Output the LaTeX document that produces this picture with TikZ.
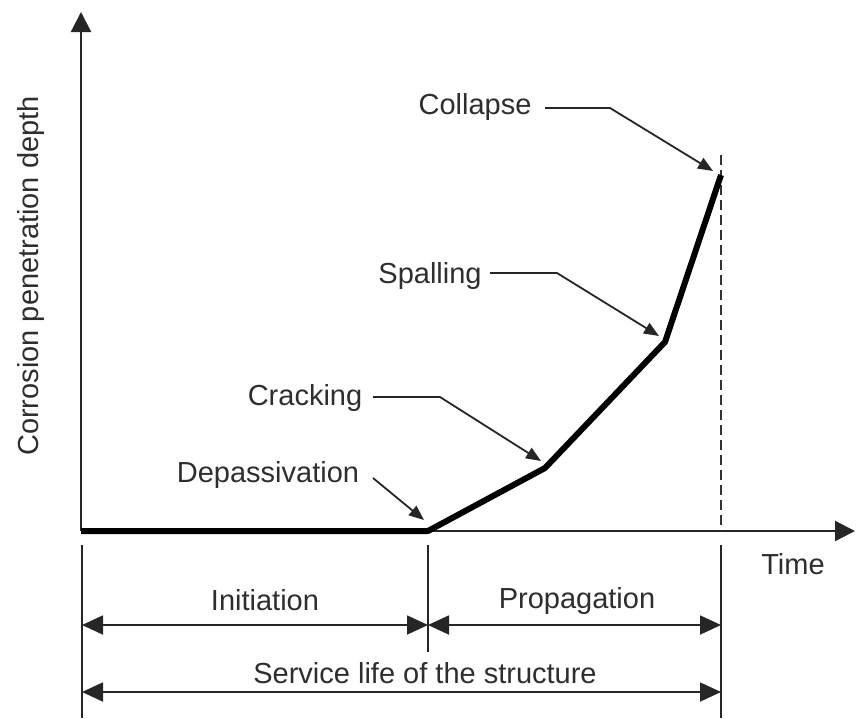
\documentclass[tikz,border=0pt]{standalone}
\usepackage{fontspec}
\setmainfont{Liberation Sans}
\usetikzlibrary{arrows.meta}
\begin{document}
\begin{tikzpicture}[x=1pt,y=-1pt,
  lbl/.style={font=\fontsize{29}{33}\selectfont, text=black!82, inner sep=0pt, anchor=base},
  axis/.style={line width=2.2pt, draw=black!85, -{Triangle[length=20pt,width=20pt]}},
  curve/.style={line width=6pt, draw=black, line join=round},
  leader/.style={line width=1.8pt, draw=black!85, -{Triangle[length=15pt,width=12pt]}},
  dimline/.style={line width=1.8pt, draw=black!85, {Triangle[length=21pt,width=19pt]}-{Triangle[length=21pt,width=19pt]}},
  tick/.style={line width=1.8pt, draw=black!85},
  guide/.style={line width=1.4pt, draw=black!80, dash pattern=on 10pt off 5pt}]
\useasboundingbox (0,0) rectangle (856,718);
% key points
\coordinate (O) at (81,531);
\coordinate (ytip) at (81,12);
\coordinate (xtip) at (855,531);
\coordinate (D) at (428,531);
\coordinate (C) at (545,468);
\coordinate (S) at (665,342);
\coordinate (E) at (721,175);
\coordinate (Etop) at (721,155);
\coordinate (Ebot) at (721,531);
% axes
\draw[axis] (O) -- (ytip);
\draw[axis] (O) -- (xtip);
% dashed guide
\draw[guide] (Etop) -- (Ebot);
% curve
\draw[curve] (O) -- (D) -- (C) -- (S) -- (E);
% labels
\node[lbl] (col) at (475,114) {Collapse};
\node[lbl] (spa) at (430,283) {Spalling};
\node[lbl] (cra) at (305,405) {Cracking};
\node[lbl] (dep) at (268,482) {Depassivation};
\node[lbl] (time) at (793,574) {Time};
\node[lbl] (ini) at (265,610) {Initiation};
\node[lbl] (pro) at (577,608) {Propagation};
\node[lbl] (ser) at (425,683) {Service life of the structure};
\node[lbl, rotate=90] (ylab) at (38,276) {Corrosion penetration depth};
% leaders
\coordinate (colA) at (545,108); \coordinate (colB) at (610,108); \coordinate (colT) at (713,171);
\coordinate (spaA) at (490,273); \coordinate (spaB) at (557,273); \coordinate (spaT) at (659,336);
\coordinate (craA) at (373,397); \coordinate (craB) at (440,397); \coordinate (craT) at (541,461);
\coordinate (depA) at (373,478); \coordinate (depT) at (424,520);
\draw[leader] (colA) -- (colB) -- (colT);
\draw[leader] (spaA) -- (spaB) -- (spaT);
\draw[leader] (craA) -- (craB) -- (craT);
\draw[leader] (depA) -- (depT);
% bottom ticks
\coordinate (t1a) at (82,545); \coordinate (t1b) at (82,718);
\coordinate (t2a) at (428,545); \coordinate (t2b) at (428,652);
\coordinate (t3a) at (721,545); \coordinate (t3b) at (721,718);
\draw[tick] (t1a) -- (t1b);
\draw[tick] (t2a) -- (t2b);
\draw[tick] (t3a) -- (t3b);
% dimension arrows
\coordinate (i1) at (82,625); \coordinate (i2) at (428,625); \coordinate (i3) at (721,625);
\coordinate (s1) at (82,692); \coordinate (s2) at (721,692);
\draw[dimline] (i1) -- (i2);
\draw[dimline] (i2) -- (i3);
\draw[dimline] (s1) -- (s2);
\end{tikzpicture}
\end{document}
